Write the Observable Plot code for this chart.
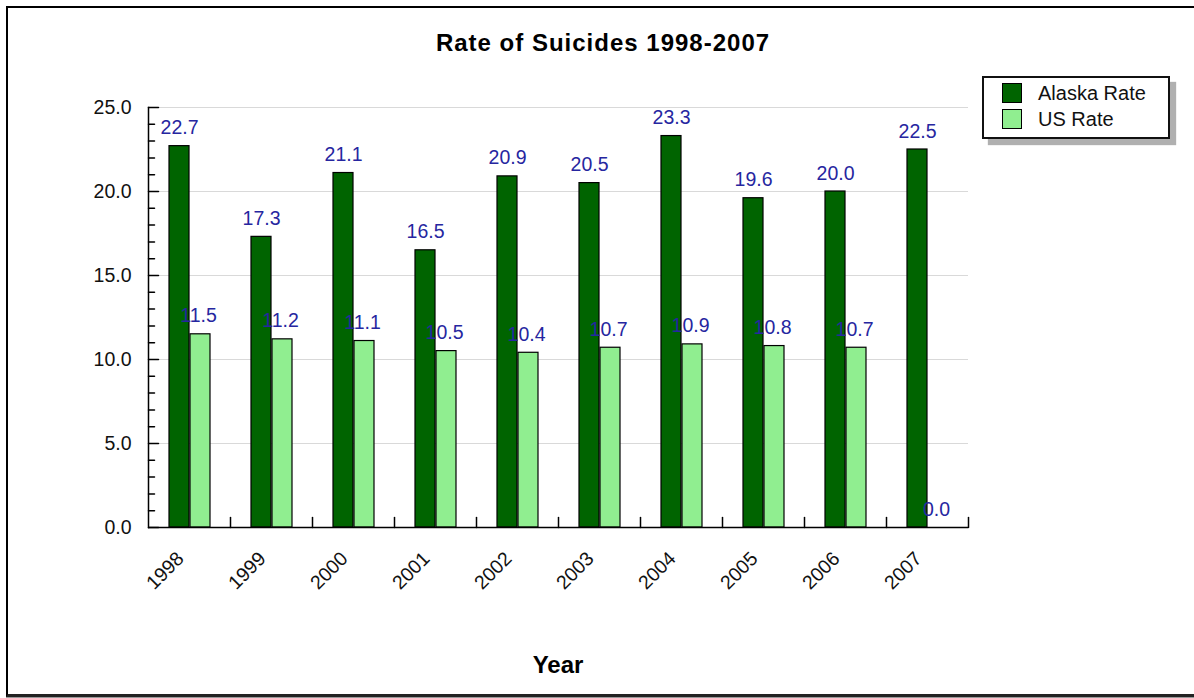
<!DOCTYPE html>
<html>
<head>
<meta charset="utf-8">
<script src="https://cdn.jsdelivr.net/npm/d3@7"></script>
<script src="https://cdn.jsdelivr.net/npm/@observablehq/plot@0.6"></script>
<style>
  body { margin: 0; background: #fff; font-family: "Liberation Sans", Arial, sans-serif; }
  #wrap { position: relative; width: 1194px; height: 698px; overflow: hidden; background: #fff; }
  #chart { position: absolute; left: 0; top: 0; }
  #frame { position: absolute; left: 6px; top: 6px; width: 1200px; height: 686px;
           border-top: 2px solid #000; border-left: 2px solid #000; border-bottom: 3px solid #222;
           box-shadow: 0 2px 0 #999; pointer-events: none; }
  #title { position: absolute; left: 0; width: 1206px; top: 31px; text-align: center;
           font-weight: bold; font-size: 24px; line-height: 24px; letter-spacing: 1px; color: #000; }
  #xtitle { position: absolute; left: 0; width: 1116px; top: 653px; text-align: center;
            font-weight: bold; font-size: 24px; line-height: 24px; color: #000; }
  #legend { position: absolute; left: 982px; top: 76px; width: 184px; height: 59px;
            border: 2px solid #111; background: #fff; box-shadow: 6px 6px 1px #b0b0b0; }
  .item { position: absolute; left: 18px; height: 20px; display: flex; align-items: center; font-size: 20px; color: #111; }
  .sw { width: 18px; height: 18px; border: 1px solid #000; margin-right: 16px; }
</style>
</head>
<body>
<div id="wrap">
  <div id="chart"></div>
  <div id="frame"></div>
  <div id="title"></div>
  <div id="xtitle"></div>
  <div id="legend"></div>
</div>
<script>
const titleText = "Rate of Suicides 1998-2007";
const xAxisTitle = "Year";
const years = ["1998", "1999", "2000", "2001", "2002", "2003", "2004", "2005", "2006", "2007"];
const alaskaRate = [22.7, 17.3, 21.1, 16.5, 20.9, 20.5, 23.3, 19.6, 20.0, 22.5];
const usRate = [11.5, 11.2, 11.1, 10.5, 10.4, 10.7, 10.9, 10.8, 10.7, 0.0];
const seriesNames = ["Alaska Rate", "US Rate"];
const seriesColors = ["#006400", "#90ee90"];
const yMajorTicks = [0, 5, 10, 15, 20, 25];
const yMinorTicks = [1, 2, 3, 4, 6, 7, 8, 9, 11, 12, 13, 14, 16, 17, 18, 19, 21, 22, 23, 24];

const W = 1194, H = 698, ML = 148, MR = 226, MT = 107, MB = 171;
const bw = (W - ML - MR) / years.length;

const alaskaRows = years.map((y, i) => ({year: y, value: alaskaRate[i], series: seriesNames[0]}));
const usRows = years.map((y, i) => ({year: y, value: usRate[i], series: seriesNames[1]}));

const tickShape = {draw(ctx, l) { ctx.moveTo(0, 0); ctx.lineTo(0, -l); }};
const labelColor = "#2626a0";
const fs = 19.5;

const chart = Plot.plot({
  width: W, height: H,
  marginLeft: ML, marginRight: MR, marginTop: MT, marginBottom: MB,
  style: {fontFamily: "'Liberation Sans', Arial, sans-serif", fontSize: fs + "px", color: "#111", background: "transparent", overflow: "visible"},
  x: {domain: years, padding: 0, axis: null},
  y: {domain: [0, 25], axis: null},
  marks: [
    Plot.ruleY(yMajorTicks.filter(v => v > 0), {stroke: "#d9d9d9", strokeWidth: 1}),
    Plot.axisX({anchor: "bottom", tickRotate: -45, tickSize: 0, tickPadding: 28, dx: -9, label: null, fontSize: fs}),
    Plot.axisY({anchor: "left", ticks: yMajorTicks, tickFormat: d => d.toFixed(1), tickSize: 0, tickPadding: 17, label: null, fontSize: fs}),
    Plot.barY(alaskaRows, {x: "year", y: "value", fill: seriesColors[0], stroke: "#000", strokeWidth: 1.2,
      insetLeft: bw / 2 - 20, insetRight: bw / 2}),
    Plot.barY(usRows, {x: "year", y: "value", fill: seriesColors[1], stroke: "#000", strokeWidth: 1.2,
      insetLeft: bw / 2 + 1, insetRight: bw / 2 - 21}),
    Plot.text(alaskaRows, {x: "year", y: "value", text: d => d.value.toFixed(1), dx: -10, dy: -12,
      lineAnchor: "bottom", fill: labelColor, fontSize: fs}),
    Plot.text(usRows, {x: "year", y: "value", text: d => d.value.toFixed(1), dx: 9, dy: -12,
      lineAnchor: "bottom", fill: labelColor, fontSize: fs}),
    Plot.ruleY([0], {stroke: "#000", strokeWidth: 1.5}),
    Plot.frame({anchor: "left", stroke: "#000", strokeWidth: 1.5}),
    Plot.vector(yMajorTicks, {y: d => d, frameAnchor: "left", rotate: 90, length: 10, anchor: "start", shape: tickShape, stroke: "#000", strokeWidth: 1.5}),
    Plot.vector(yMinorTicks, {y: d => d, frameAnchor: "left", rotate: 90, length: 6, anchor: "start", shape: tickShape, stroke: "#000", strokeWidth: 1.5}),
    Plot.vector(years, {x: d => d, frameAnchor: "bottom", dx: bw / 2, length: 10, anchor: "start", shape: tickShape, stroke: "#000", strokeWidth: 1.5})
  ]
});
document.getElementById("chart").appendChild(chart);
document.getElementById("title").textContent = titleText;
document.getElementById("xtitle").textContent = xAxisTitle;

const legend = document.getElementById("legend");
seriesNames.forEach((name, i) => {
  const item = document.createElement("div");
  item.className = "item";
  item.style.top = (5 + i * 26) + "px";
  const sw = document.createElement("span");
  sw.className = "sw";
  sw.style.background = seriesColors[i];
  const t = document.createElement("span");
  t.textContent = name;
  item.appendChild(sw);
  item.appendChild(t);
  legend.appendChild(item);
});
</script>
</body>
</html>
